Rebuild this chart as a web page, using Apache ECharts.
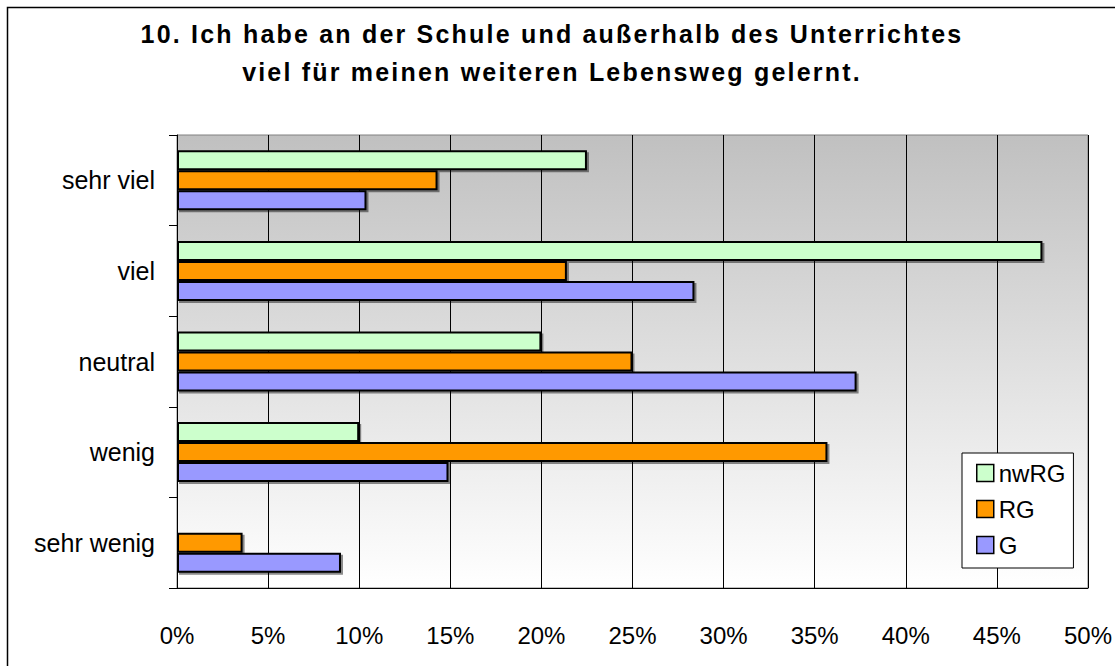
<!DOCTYPE html>
<html>
<head>
<meta charset="utf-8">
<script src="https://cdn.jsdelivr.net/npm/echarts@6/dist/echarts.min.js"></script>
<style>
html,body{margin:0;padding:0;background:#fff;}
#c{width:1115px;height:666px;}
</style>
</head>
<body>
<div id="c"></div>
<script>
const titleLines = ['10. Ich habe an der Schule und außerhalb des Unterrichtes', 'viel für meinen weiteren Lebensweg gelernt.'];
const categories = ['sehr viel', 'viel', 'neutral', 'wenig', 'sehr wenig'];
const seriesNames = ['nwRG', 'RG', 'G'];
const nwRG = [22.5, 47.5, 20.0, 10.0, 0];
const RG = [14.3, 21.4, 25.0, 35.7, 3.6];
const G = [10.4, 28.4, 37.3, 14.9, 9.0];
const colors = ['#ccffcc', '#ff9900', '#9999ff'];

const FONT = 'Liberation Sans, Arial, sans-serif';
const chart = echarts.init(document.getElementById('c'), null, {renderer: 'svg'});
const values = [nwRG, RG, G];
const series = seriesNames.map((n, i) => ({
  name: n,
  type: 'bar',
  data: values[i].map(v => (v === 0 ? null : v)),
  barWidth: 20,
  barGap: '0%',
  itemStyle: {
    color: colors[i],
    borderColor: '#000',
    borderWidth: 2,
    shadowColor: 'rgba(0,0,0,0.45)',
    shadowOffsetX: 2,
    shadowOffsetY: 2,
    shadowBlur: 0
  },
  emphasis: {disabled: true},
  animation: false
}));

chart.setOption({
  animation: false,
  graphic: [{
    type: 'rect',
    shape: {x: 7.5, y: 7.5, width: 1120, height: 680},
    style: {fill: 'none', stroke: '#000', lineWidth: 1.5},
    z: -10
  }],
  title: {
    text: titleLines.join('\n'),
    left: 547,
    top: 10,
    textAlign: 'center',
    textStyle: {
      fontFamily: FONT,
      fontWeight: 'bold',
      fontSize: 25,
      lineHeight: 38,
      color: '#000'
    }
  },
  legend: {
    orient: 'vertical',
    left: 962,
    top: 453,
    padding: [8, 8, 11, 14],
    itemGap: 12,
    itemWidth: 17,
    itemHeight: 17,
    borderColor: '#000',
    borderWidth: 1,
    backgroundColor: '#fff',
    icon: 'rect',
    data: seriesNames,
    itemStyle: {borderColor: '#000', borderWidth: 1.5, shadowBlur: 0, shadowOffsetX: 0, shadowOffsetY: 0},
    textStyle: {fontFamily: FONT, fontSize: 24, color: '#000', lineHeight: 24}
  },
  grid: {
    left: 177, right: 27, top: 135, bottom: 78,
    show: true,
    borderWidth: 1,
    borderColor: '#808080',
    backgroundColor: new echarts.graphic.LinearGradient(0, 0, 0, 1, [
      {offset: 0, color: '#c0c0c0'},
      {offset: 1, color: '#ffffff'}
    ])
  },
  xAxis: {
    type: 'value',
    min: 0, max: 50, interval: 5,
    axisLine: {show: true, lineStyle: {color: '#000', width: 1}},
    axisTick: {show: false},
    splitLine: {show: true, lineStyle: {color: '#000', width: 1}},
    axisLabel: {
      formatter: v => v + '%',
      fontFamily: FONT,
      fontSize: 24, color: '#000', margin: 35
    }
  },
  yAxis: {
    type: 'category',
    data: categories,
    inverse: true,
    axisLine: {show: true, lineStyle: {color: '#000', width: 1}},
    axisTick: {show: true, length: 8, lineStyle: {color: '#000'}},
    axisLabel: {
      fontFamily: FONT,
      fontSize: 25, color: '#000', margin: 22
    }
  },
  series: series
});

function spaceTitle() {
  document.querySelectorAll('#c svg text').forEach(t => {
    const s = t.textContent;
    if (titleLines.includes(s)) {
      t.style.letterSpacing = '2.2px';
    }
  });
}
spaceTitle();
chart.on('finished', spaceTitle);
setTimeout(spaceTitle, 50);
</script>
</body>
</html>
